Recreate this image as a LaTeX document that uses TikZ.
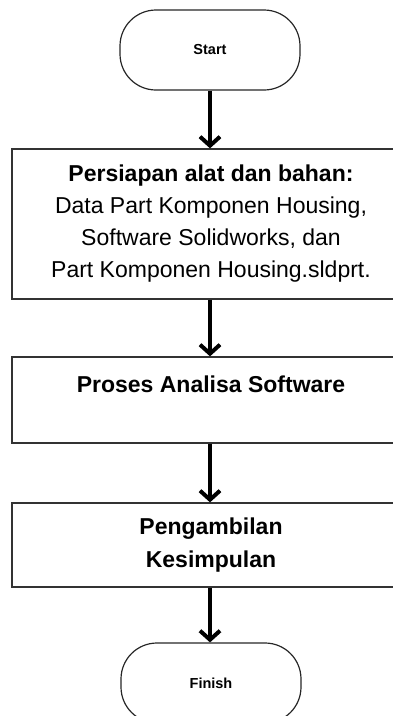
\documentclass[tikz,border=0pt]{standalone}
\usepackage{fontspec}
\setmainfont{Liberation Sans}
\usepackage{tikz}
\usetikzlibrary{arrows.meta, positioning}

\tikzset{
  terminal/.style={draw=black!85, line width=1.2pt, rounded corners=36pt,
    minimum width=180pt, minimum height=80pt, inner sep=0pt,
    font=\fontsize{14.5}{17}\selectfont\bfseries},
  process/.style={draw=black!80, line width=1.3pt, minimum width=398pt,
    inner sep=0pt, align=center, font=\fontsize{23}{32}\selectfont},
  flowarrow/.style={line width=4pt, -{Straight Barb[length=9pt,width=20pt]}}
}

\begin{document}
\begin{tikzpicture}[x=1pt, y=-1pt]
    \useasboundingbox (0,0) rectangle (393,716);
    \clip (0,0) rectangle (393,716);

    % --- terminals ---
    \node[terminal] (start)  at (210,50)  {Start};
    \node[terminal] (finish) at (211,683) {Finish};

    % --- process boxes (right edge runs off the page) ---
    \node[process, minimum height=150pt] (prep) at (211,224)
      {\textbf{Persiapan alat dan bahan:}\\
       Data Part Komponen Housing,\\
       Software Solidworks, dan\\
       Part Komponen Housing.sldprt.};
    \node[process, minimum height=86pt, font=\fontsize{23}{32}\selectfont\bfseries]
      (analisa) at (211,400) {Proses Analisa Software\\ \mbox{}};
    \node[process, minimum height=84pt, font=\fontsize{23}{33}\selectfont\bfseries]
      (simpulan) at (211,545) {Pengambilan\\Kesimpulan};

    % --- flow ---
    \draw[flowarrow] (start.south)    -- (start.south |- prep.north);
    \draw[flowarrow] (prep.south -| start.south) -- (start.south |- analisa.north);
    \draw[flowarrow] (analisa.south -| start.south) -- (start.south |- simpulan.north);
    \draw[flowarrow] (simpulan.south -| start.south) -- (finish.north -| start.south);
\end{tikzpicture}
\end{document}
